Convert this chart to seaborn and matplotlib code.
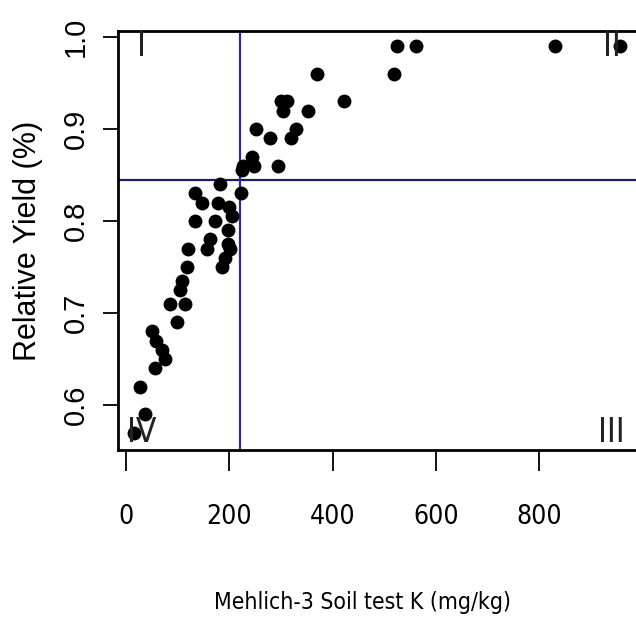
import matplotlib
matplotlib.use("Agg")
import matplotlib.pyplot as plt
import seaborn as sns
import pandas as pd

# Mehlich-3 soil test K (mg/kg) and relative yield
soil_k = [524, 561, 518, 831, 956, 369, 421, 352, 300, 312, 304, 329, 319,
          252, 279, 295, 244, 248, 227, 224, 182, 223, 134, 147, 134, 179,
          199, 205, 172, 198, 163, 156, 198, 201, 192, 185, 120, 118, 108,
          105, 114, 86, 98, 50, 59, 69, 76, 56, 27, 37, 15]
rel_yield = [0.99, 0.99, 0.96, 0.99, 0.99, 0.96, 0.93, 0.92, 0.93, 0.93, 0.92,
             0.90, 0.89, 0.90, 0.89, 0.86, 0.87, 0.86, 0.86, 0.855, 0.84, 0.83,
             0.83, 0.82, 0.80, 0.82, 0.815, 0.805, 0.80, 0.79, 0.78, 0.77,
             0.775, 0.77, 0.76, 0.75, 0.77, 0.75, 0.735, 0.725, 0.71, 0.71,
             0.69, 0.68, 0.67, 0.66, 0.65, 0.64, 0.62, 0.59, 0.57]

critical_k = 221
critical_yield = 0.845

x_ticks = [0, 200, 400, 600, 800]
y_ticks = [0.6, 0.7, 0.8, 0.9, 1.0]
quadrants = ["I", "II", "III", "IV"]

df = pd.DataFrame({"k": soil_k, "ry": rel_yield})

sns.set_style("white")
plt.rcParams["font.family"] = ["Liberation Sans", "DejaVu Sans"]
plt.rcParams["text.color"] = "black"
plt.rcParams["axes.labelcolor"] = "black"
narrow = dict(family=["DejaVu Sans"], fontstretch="condensed")

fig = plt.figure(figsize=(6.36, 6.23), dpi=100)
ax = fig.add_axes([118 / 636, 173 / 623, 518 / 636, 419 / 623])

sns.scatterplot(data=df, x="k", y="ry", color="black", s=100,
                edgecolor="black", linewidth=0, ax=ax, zorder=3)

ax.axhline(critical_yield, color="#1c1c6a", lw=1.6, zorder=2)
ax.axvline(critical_k, color="#2a2ab0", lw=1.6, zorder=2)

ax.set_xlim(-15.5, 987)
ax.set_ylim(0.551, 1.0065)

ax.set_xticks(x_ticks)
ax.set_xticklabels([str(v) for v in x_ticks], fontsize=19, **narrow)
ax.set_yticks(y_ticks)
ax.set_yticklabels([f"{v:.1f}" for v in y_ticks], fontsize=21,
                   rotation=90, va="center")

ax.tick_params(axis="x", direction="out", length=15, width=1.3,
               pad=24, colors="black", bottom=True)
ax.tick_params(axis="y", direction="out", length=11, width=1.3,
               pad=9, colors="black", left=True)

ax.set_xlabel("Mehlich-3 Soil test K (mg/kg)", fontsize=16.5, **narrow)
ax.xaxis.set_label_coords((363 - 118) / 518, -153 / 419)
ax.xaxis.label.set_va("center")
ax.set_ylabel("Relative Yield (%)", fontsize=22, labelpad=14)

for side in ["left", "bottom", "top"]:
    ax.spines[side].set_color("black")
    ax.spines[side].set_linewidth(2)
ax.spines["right"].set_visible(False)

# quadrant labels
quad_pos = [(30, 0.99), (940, 0.99), (940, 0.57), (30, 0.57)]
for label, (qx, qy) in zip(quadrants, quad_pos):
    ax.text(qx, qy, label, fontsize=24, va="center", ha="center",
            color="#222222", **narrow)

fig.savefig("out.png", dpi=100)
